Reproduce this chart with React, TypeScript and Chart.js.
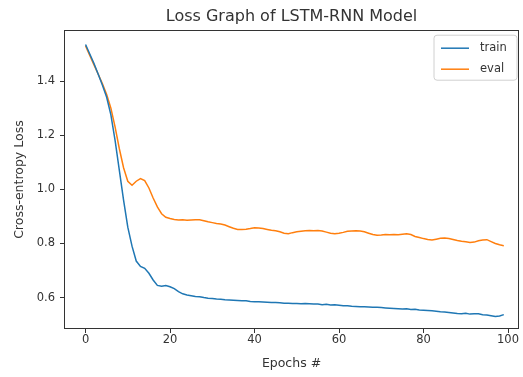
import React, { useEffect, useRef } from "react";
import { Chart, registerables } from "chart.js";

Chart.register(...registerables);

const TITLE = "Loss Graph of LSTM-RNN Model";
const X_LABEL = "Epochs #";
const Y_LABEL = "Cross-entropy Loss";
const SERIES_NAMES = ["train", "eval"];
const SERIES_COLORS = ["#1f77b4", "#ff7f0e"];
const X_TICKS = [0, 20, 40, 60, 80, 100];
const Y_TICKS = [0.6, 0.8, 1.0, 1.2, 1.4];

const trainLoss = [
  1.535, 1.5, 1.465, 1.425, 1.385, 1.34, 1.275, 1.18, 1.07, 0.96,
  0.86, 0.79, 0.735, 0.715, 0.708, 0.69, 0.665, 0.645, 0.642, 0.645,
  0.64, 0.633, 0.622, 0.614, 0.61, 0.607, 0.604, 0.603, 0.6, 0.598,
  0.597, 0.595, 0.594, 0.592, 0.591, 0.59, 0.589, 0.588, 0.588, 0.586,
  0.585, 0.585, 0.584, 0.583, 0.582, 0.582, 0.581, 0.579, 0.579, 0.578,
  0.578, 0.577, 0.578, 0.577, 0.576, 0.576, 0.574, 0.575, 0.573, 0.574,
  0.572, 0.57, 0.57, 0.568, 0.567, 0.566, 0.566, 0.565, 0.564, 0.564,
  0.563, 0.562, 0.561, 0.56, 0.559, 0.558, 0.559, 0.556, 0.557, 0.554,
  0.553, 0.552, 0.551, 0.55, 0.548, 0.547, 0.545, 0.543, 0.541, 0.54,
  0.542, 0.539, 0.54, 0.54, 0.537, 0.536, 0.533, 0.53, 0.532, 0.537,
];

const evalLoss = [
  1.53, 1.495, 1.46, 1.425, 1.39, 1.35, 1.3, 1.23, 1.15, 1.08,
  1.03, 1.015, 1.03, 1.04, 1.032, 1.005, 0.968, 0.935, 0.91, 0.897,
  0.892, 0.889, 0.887, 0.888, 0.886, 0.887, 0.888, 0.888, 0.884, 0.88,
  0.877, 0.874, 0.872, 0.868, 0.862, 0.856, 0.852, 0.852, 0.853, 0.855,
  0.858, 0.857, 0.855, 0.852, 0.849, 0.847, 0.843, 0.838, 0.836, 0.84,
  0.843, 0.845, 0.847, 0.848, 0.847, 0.848, 0.846, 0.842, 0.838, 0.836,
  0.838, 0.841, 0.845, 0.846, 0.847, 0.846, 0.843, 0.838, 0.833, 0.83,
  0.831, 0.833, 0.832, 0.833, 0.832, 0.834, 0.836, 0.833, 0.826, 0.822,
  0.818, 0.815, 0.813, 0.816, 0.819, 0.82, 0.818, 0.815, 0.811, 0.808,
  0.806, 0.804, 0.805, 0.81, 0.813, 0.814, 0.807, 0.8, 0.795, 0.792,
];

const FONT = "'DejaVu Sans', sans-serif";
const TEXT = "#333";

const framePlugin = {
  id: "frame",
  afterDatasetsDraw(chart: any) {
    const { ctx, chartArea } = chart;
    ctx.save();
    ctx.strokeStyle = "#333";
    ctx.lineWidth = 1;
    ctx.strokeRect(
      Math.round(chartArea.left) + 0.5,
      Math.round(chartArea.top) + 0.5,
      Math.round(chartArea.right - chartArea.left) - 1,
      Math.round(chartArea.bottom - chartArea.top) - 1
    );
    ctx.restore();
  },
};

const legendPlugin = {
  id: "innerLegend",
  afterDraw(chart: any) {
    const { ctx, chartArea } = chart;
    const w = 83;
    const h = 45;
    const x = chartArea.right - 2 - w;
    const y = chartArea.top + 5;
    ctx.save();
    ctx.fillStyle = "rgba(255,255,255,0.8)";
    ctx.strokeStyle = "#d0d0d0";
    ctx.lineWidth = 1;
    ctx.beginPath();
    const r = 3;
    ctx.moveTo(x + r, y);
    ctx.lineTo(x + w - r, y);
    ctx.quadraticCurveTo(x + w, y, x + w, y + r);
    ctx.lineTo(x + w, y + h - r);
    ctx.quadraticCurveTo(x + w, y + h, x + w - r, y + h);
    ctx.lineTo(x + r, y + h);
    ctx.quadraticCurveTo(x, y + h, x, y + h - r);
    ctx.lineTo(x, y + r);
    ctx.quadraticCurveTo(x, y, x + r, y);
    ctx.closePath();
    ctx.fill();
    ctx.stroke();
    ctx.font = `11.5px ${FONT}`;
    ctx.textBaseline = "middle";
    SERIES_NAMES.forEach((name, i) => {
      const cy = y + 13 + i * 21;
      ctx.strokeStyle = SERIES_COLORS[i];
      ctx.lineWidth = 1.5;
      ctx.beginPath();
      ctx.moveTo(x + 7, cy);
      ctx.lineTo(x + 35, cy);
      ctx.stroke();
      ctx.fillStyle = TEXT;
      ctx.fillText(name, x + 46, cy);
    });
    ctx.restore();
  },
};

export default function App() {
  const ref = useRef<HTMLCanvasElement>(null);
  useEffect(() => {
    if (!ref.current) return;
    const chart = new Chart(ref.current, {
      type: "line",
      data: {
        datasets: [
          {
            label: SERIES_NAMES[0],
            data: trainLoss.map((v, i) => ({ x: i, y: v })),
            borderColor: SERIES_COLORS[0],
            borderWidth: 1.5,
            pointRadius: 0,
            tension: 0,
          },
          {
            label: SERIES_NAMES[1],
            data: evalLoss.map((v, i) => ({ x: i, y: v })),
            borderColor: SERIES_COLORS[1],
            borderWidth: 1.5,
            pointRadius: 0,
            tension: 0,
          },
        ],
      },
      options: {
        animation: false,
        responsive: false,
        layout: { padding: { left: 0, right: 4, top: 0, bottom: 0 } },
        plugins: {
          legend: { display: false },
          tooltip: { enabled: false },
          title: {
            display: true,
            fullSize: false,
            text: TITLE,
            color: TEXT,
            font: { family: FONT, size: 16, weight: "normal" },
            padding: { top: 7, bottom: 4 },
          },
        },
        scales: {
          x: {
            type: "linear",
            min: -5.1,
            max: 102.6,
            afterFit: (s: any) => {
              s.height = 48;
            },
            afterBuildTicks: (s: any) => {
              s.ticks = X_TICKS.map((v) => ({ value: v }));
            },
            grid: {
              display: true,
              drawOnChartArea: false,
              drawTicks: true,
              tickLength: 4,
              color: "#333",
            },
            border: { display: false },
            ticks: {
              color: TEXT,
              font: { family: FONT, size: 11.5 },
              padding: 0,
              maxRotation: 0,
              callback: (v: any) => String(v),
            },
            title: {
              display: true,
              text: X_LABEL,
              color: TEXT,
              font: { family: FONT, size: 12.5 },
              padding: { top: 0, bottom: 6 },
            },
          },
          y: {
            type: "linear",
            min: 0.484,
            max: 1.588,
            afterFit: (s: any) => {
              s.width = 64;
            },
            afterBuildTicks: (s: any) => {
              s.ticks = Y_TICKS.map((v) => ({ value: v }));
            },
            grid: {
              display: true,
              drawOnChartArea: false,
              drawTicks: true,
              tickLength: 4,
              color: "#333",
            },
            border: { display: false },
            ticks: {
              color: TEXT,
              font: { family: FONT, size: 11.5 },
              padding: 5,
              callback: (v: any) => Number(v).toFixed(1),
            },
            title: {
              display: true,
              text: Y_LABEL,
              color: TEXT,
              font: { family: FONT, size: 12.5 },
              padding: { top: 12, bottom: 0 },
            },
          },
        },
      },
      plugins: [framePlugin, legendPlugin],
    });
    return () => chart.destroy();
  }, []);
  return (
    <div style={{ position: "fixed", left: 0, top: 0, width: 523, height: 377, background: "#fff" }}>
      <canvas ref={ref} width={523} height={377} style={{ display: "block" }} />
    </div>
  );
}
